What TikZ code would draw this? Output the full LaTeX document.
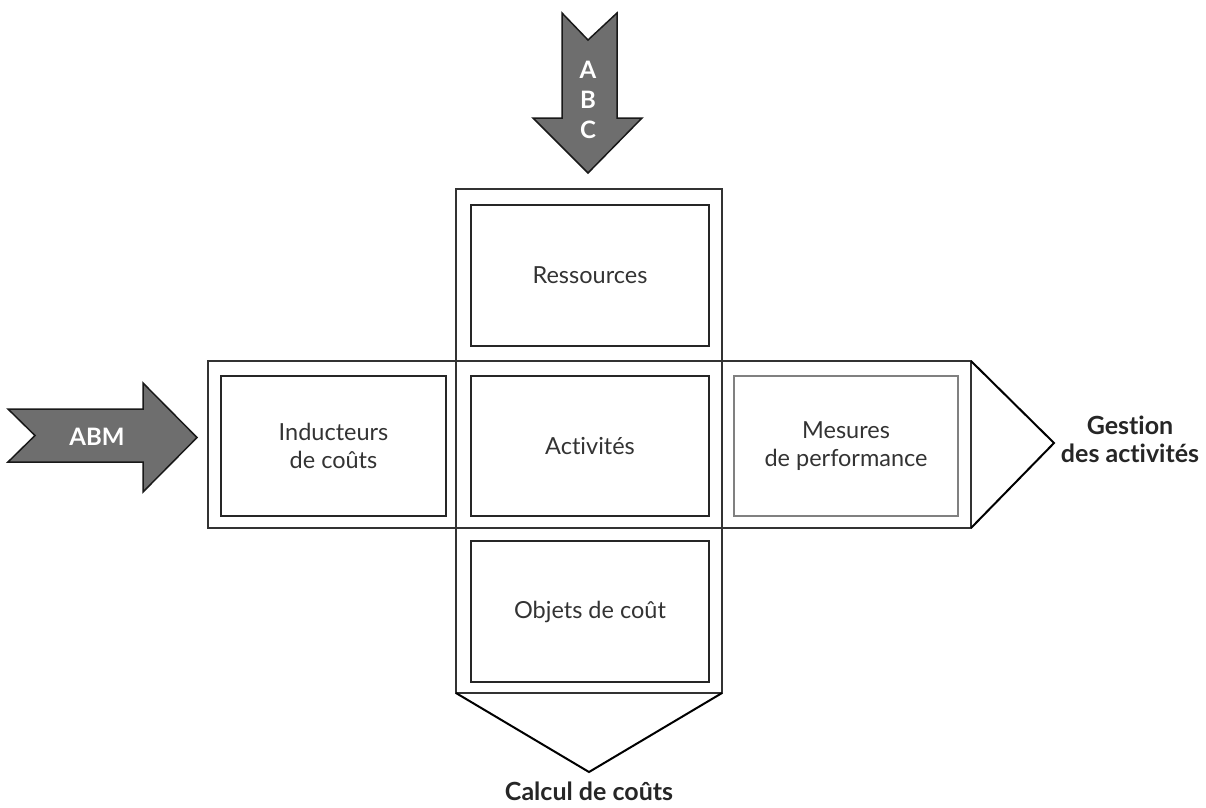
\documentclass[tikz,border=0pt]{standalone}
\usepackage{fontspec}
\setmainfont{Lato}[Ligatures={NoCommon}]
\begin{document}
\begin{tikzpicture}[x=1pt,y=-1pt,
  frame/.style={draw=black!80,line width=2pt},
  cell/.style={draw=black!85,line width=2pt,rectangle,minimum width=238pt,minimum height=141pt,
    align=center,font=\fontsize{23.5}{28}\selectfont,text=black!80,inner sep=0pt},
  softcell/.style={cell,draw=black!50,line width=1.5pt},
  pointer/.style={draw=black,line width=2pt,line join=miter},
  bigarrow/.style={draw=black!90,fill=black!57,line width=1.5pt,line join=miter},
  arrowtext/.style={text=white,font=\fontsize{24}{30}\selectfont\bfseries,align=center,inner sep=0pt},
  outcome/.style={font=\fontsize{25}{28}\selectfont\bfseries,text=black!85,align=center,inner sep=0pt}]
\useasboundingbox (0,0) rectangle (1206,807);

% outer frames: the vertical column and the horizontal row
\draw[frame] (456,189) rectangle (722,693);
\draw[frame] (208,361) rectangle (971,528);

% output pointers
\draw[pointer] (971,361) -- (1054,443) -- (971,528);
\draw[pointer] (456,693) -- (589,772) -- (722,693);

% inner cells
\node[cell] (res) at (590,275) {Ressources};
\node[cell,minimum height=140pt] (act) at (590,446) {Activités};
\node[cell,minimum width=225pt,minimum height=140pt] (ind) at (333.5,446) {Inducteurs\\de coûts};
\node[softcell,minimum width=224pt,minimum height=140pt] (mes) at (846,446) {Mesures\\de performance};
\node[cell] (obj) at (590,611.5) {Objets de coût};

% ABC arrow (top, pointing down)
\draw[bigarrow] (562,13) -- (588,40) -- (617,13) -- (617,118) -- (642,118)
  -- (588,173) -- (533,118) -- (562,118) -- cycle;
\node[arrowtext] (abc) at (588,100) {A\\B\\C};

% ABM arrow (left, pointing right)
\draw[bigarrow] (8,409) -- (143,409) -- (143,383) -- (197,437.5) -- (143,492)
  -- (143,462) -- (8,462) -- (35,435.5) -- cycle;
\node[arrowtext] (abm) at (97,437) {ABM};

% outcome labels
\node[outcome] (gest) at (1130,439) {Gestion\\des activités};
\node[outcome] (calc) at (589,791) {Calcul de coûts};
\end{tikzpicture}
\end{document}
